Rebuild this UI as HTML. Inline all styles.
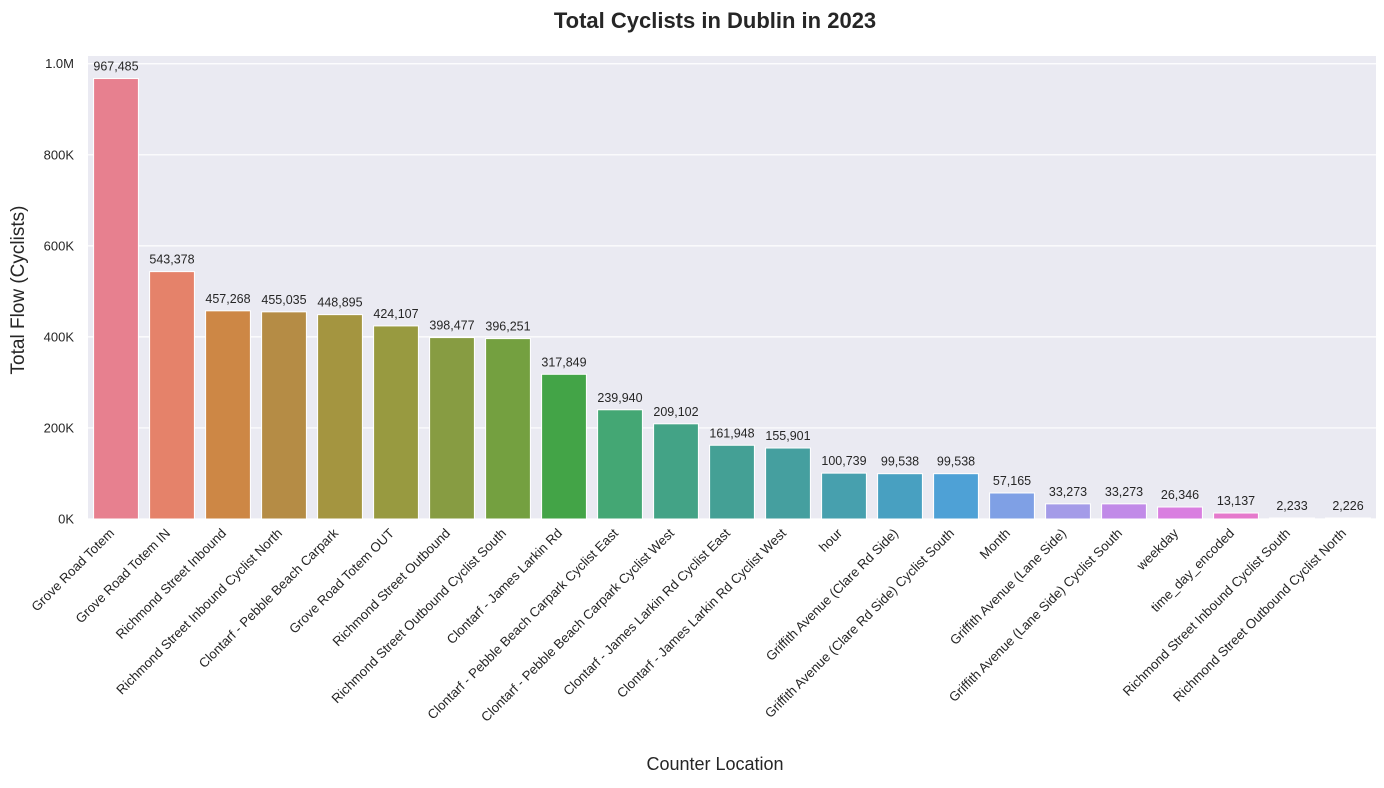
<!DOCTYPE html>
<html><head><meta charset="utf-8"><style>
body{margin:0;background:#fff;font-family:"Liberation Sans",Arial,sans-serif}
</style></head><body>
<svg id="chart" width="1384" height="783" xmlns="http://www.w3.org/2000/svg"></svg>
<script>
const categories=["Grove Road Totem","Grove Road Totem IN","Richmond Street Inbound","Richmond Street Inbound Cyclist North","Clontarf - Pebble Beach Carpark","Grove Road Totem OUT","Richmond Street Outbound","Richmond Street Outbound Cyclist South","Clontarf - James Larkin Rd","Clontarf - Pebble Beach Carpark Cyclist East","Clontarf - Pebble Beach Carpark Cyclist West","Clontarf - James Larkin Rd Cyclist East","Clontarf - James Larkin Rd Cyclist West","hour","Griffith Avenue (Clare Rd Side)","Griffith Avenue (Clare Rd Side) Cyclist South","Month","Griffith Avenue (Lane Side)","Griffith Avenue (Lane Side) Cyclist South","weekday","time_day_encoded","Richmond Street Inbound Cyclist South","Richmond Street Outbound Cyclist North"];
const values=[967485,543378,457268,455035,448895,424107,398477,396251,317849,239940,209102,161948,155901,100739,99538,99538,57165,33273,33273,26346,13137,2233,2226];
const tickValues=[0,200000,400000,600000,800000,1000000];
const tickLabels=["0K","200K","400K","600K","800K","1.0M"];
const colors=["#e7808f","#e5826a","#cd8745","#b58c45","#a49540","#989a40","#879c42","#74a040","#43a447","#44a774","#43a386","#44a095","#459f9f","#47a0ae","#48a0c1","#4ea1d6","#7fa0e5","#a49be8","#c18ae8","#d97ee0","#e579cc","#e67ab4","#e67ca2"];
const NS="http://www.w3.org/2000/svg",svg=document.getElementById('chart');
const L=88,R=1376,T=56,B=519,yMax=1017000;
const band=(R-L)/categories.length;
const y=v=>B-(v/yMax)*(B-T);
const x=i=>L+band*(i+0.5);
function mk(t,a,txt){const e=document.createElementNS(NS,t);for(const k in a)e.setAttribute(k,a[k]);if(txt!==undefined)e.textContent=txt;svg.appendChild(e);return e;}
let bg=mk('rect',{x:L,y:T,width:R-L,height:B-T,fill:'#eaeaf2'});


tickValues.forEach((v,i)=>{
 let g=mk('line',{x1:L,x2:R,y1:y(v),y2:y(v),stroke:'#fff','stroke-width':1.2});
 
 
 let t=mk('text',{x:74,y:y(v)+4.5,'text-anchor':'end','font-size':13,fill:'#262626'},tickLabels[i]);
 
 
});
values.forEach((v,i)=>{
 const bw=band*0.8;
 let r=mk('rect',{x:x(i)-bw/2,y:y(v),width:bw,height:B-y(v),fill:colors[i],stroke:'#fff','stroke-width':1});
 
 
 let t=mk('text',{x:x(i),y:y(v)-8,'text-anchor':'middle','font-size':12.5,fill:'#262626'},v.toLocaleString('en-US'));
 
 
 let c=mk('text',{x:x(i)-1,y:534,'text-anchor':'end','font-size':13.2,fill:'#262626',transform:`rotate(-45 ${x(i)-1} 534)`},categories[i]);
 
 
});
let ti=mk('text',{x:715,y:28,'text-anchor':'middle','font-size':22,'font-weight':'bold',fill:'#262626'},'Total Cyclists in Dublin in 2023');


let xt=mk('text',{x:715,y:770,'text-anchor':'middle','font-size':18,fill:'#262626'},'Counter Location');


let yt=mk('text',{x:24,y:290,'text-anchor':'middle','font-size':19,fill:'#262626',transform:'rotate(-90 24 290)'},'Total Flow (Cyclists)');


</script>
</body></html>
